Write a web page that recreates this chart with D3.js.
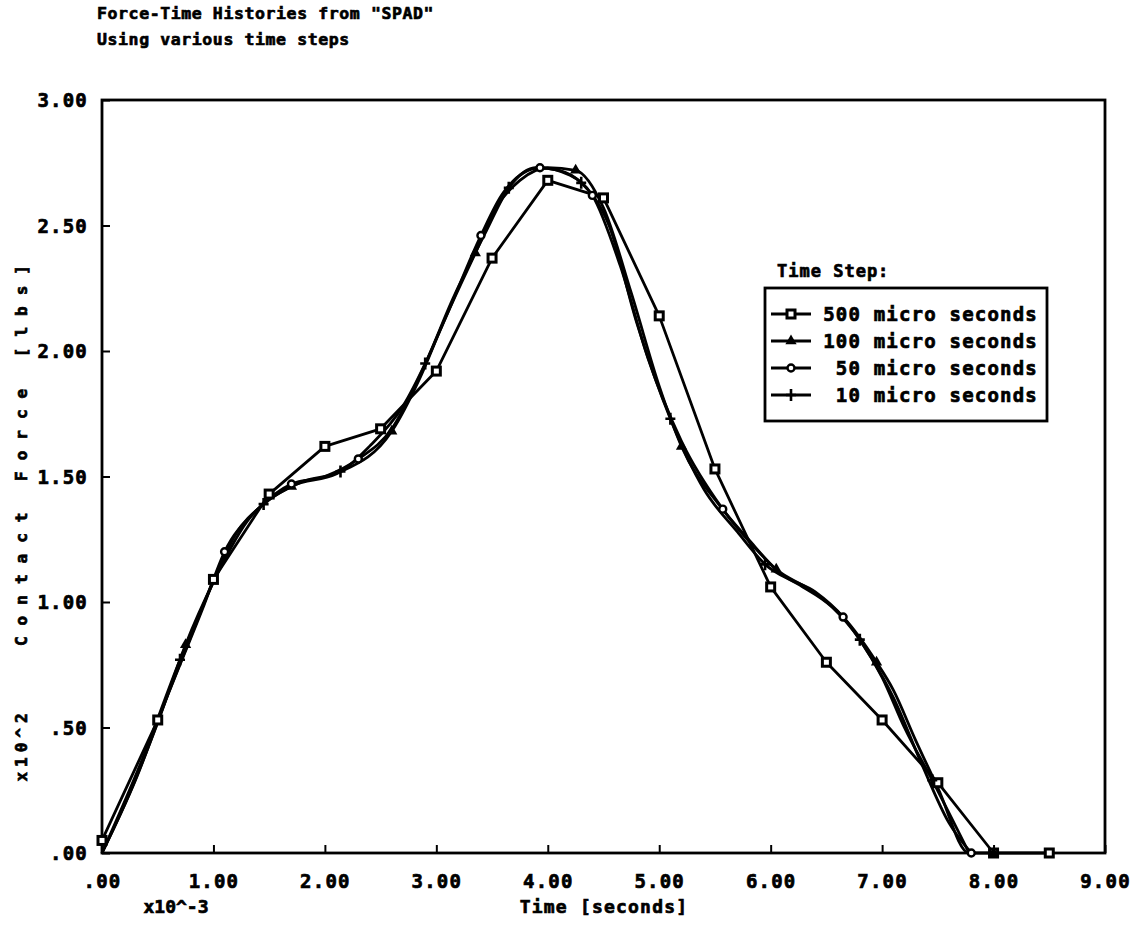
<!DOCTYPE html>
<html>
<head>
<meta charset="utf-8">
<script src="https://cdn.jsdelivr.net/npm/d3@7"></script>
<style>
  body { margin: 0; background: #fff; }
  text { font-family: "DejaVu Sans Mono", monospace; font-weight: bold; fill: #000; stroke: #000; stroke-width: 0.7px; white-space: pre; }
</style>
</head>
<body>
<svg id="chart" width="1147" height="926"></svg>
<script>
// 500 micro seconds (square markers at every point, straight segments)
const t500 = [0, 0.5, 1.0, 1.5, 2.0, 2.5, 3.0, 3.5, 4.0, 4.5, 5.0, 5.5, 6.0, 6.5, 7.0, 7.5, 8.0, 8.5];
const f500 = [0.05, 0.53, 1.09, 1.43, 1.62, 1.69, 1.92, 2.37, 2.68, 2.61, 2.14, 1.53, 1.06, 0.76, 0.53, 0.28, 0.0, 0.0];

// 100 micro seconds (triangles)
const t100 = [0, 0.25, 0.5, 0.75, 1.0, 1.3, 1.7, 2.1, 2.6, 2.85, 3.05, 3.35, 3.55, 3.75, 4.0, 4.25, 4.5, 4.75, 5.0, 5.2, 5.55, 5.8, 6.05, 6.35, 6.65, 6.95, 7.1, 7.3, 7.5, 7.78, 8.0];
const f100 = [0, 0.24, 0.52, 0.83, 1.08, 1.32, 1.46, 1.51, 1.68, 1.89, 2.10, 2.39, 2.58, 2.68, 2.73, 2.72, 2.57, 2.23, 1.86, 1.62, 1.38, 1.25, 1.13, 1.05, 0.94, 0.76, 0.65, 0.45, 0.26, 0, 0];
const m100 = [3, 6, 8, 11, 15, 19, 22, 25, 30];

// 50 micro seconds (circles)
const t50 = [0, 0.3, 0.6, 0.9, 1.1, 1.4, 1.7, 2.0, 2.3, 2.6, 2.85, 3.1, 3.4, 3.6, 3.93, 4.2, 4.4, 4.65, 4.9, 5.2, 5.57, 5.85, 6.1, 6.4, 6.65, 6.9, 7.1, 7.35, 7.6, 7.8];
const f50 = [0, 0.29, 0.64, 0.97, 1.20, 1.37, 1.47, 1.50, 1.57, 1.69, 1.90, 2.15, 2.46, 2.63, 2.73, 2.70, 2.62, 2.34, 1.97, 1.64, 1.37, 1.22, 1.11, 1.04, 0.94, 0.78, 0.62, 0.36, 0.12, 0];
const m50 = [4, 6, 8, 12, 14, 16, 20, 24, 29];

// 10 micro seconds (plus signs)
const t10 = [0, 0.35, 0.7, 0.95, 1.2, 1.45, 1.8, 2.14, 2.4, 2.7, 2.9, 3.15, 3.45, 3.65, 3.9, 4.1, 4.3, 4.55, 4.8, 5.1, 5.4, 5.7, 5.95, 6.25, 6.55, 6.8, 7.0, 7.2, 7.45, 7.78];
const f10 = [0, 0.36, 0.77, 1.03, 1.27, 1.39, 1.48, 1.52, 1.62, 1.78, 1.95, 2.21, 2.48, 2.65, 2.73, 2.72, 2.67, 2.50, 2.11, 1.73, 1.45, 1.28, 1.15, 1.07, 0.98, 0.85, 0.70, 0.50, 0.29, 0];
const m10 = [2, 5, 7, 10, 13, 16, 19, 22, 25, 28];

const xTicks = [0, 1, 2, 3, 4, 5, 6, 7, 8, 9];
const yTicks = [0, 0.5, 1.0, 1.5, 2.0, 2.5, 3.0];
const legendLabels = ["500 micro seconds", "100 micro seconds", " 50 micro seconds", " 10 micro seconds"];

const svg = d3.select('#chart');
const x = d3.scaleLinear().domain([0, 9]).range([102, 1105]);
const y = d3.scaleLinear().domain([0, 3]).range([853, 100]);
const fmt = v => d3.format('.2f')(v).replace(/^0/, '');

// titles
svg.append('text').attr('x', 97).attr('y', 19).attr('font-size', 16.5).attr('letter-spacing', 0.6)
    .text('Force-Time Histories from "SPAD"');
svg.append('text').attr('x', 97).attr('y', 45).attr('font-size', 16.5).attr('letter-spacing', 0.6)
    .text('Using various time steps');

// axes with inward ticks
const xAxis = svg.append('g').attr('transform', `translate(0,${y(0)})`)
    .call(d3.axisBottom(x).tickValues(xTicks).tickSizeInner(-8).tickSizeOuter(0).tickPadding(22).tickFormat(fmt));
const yAxis = svg.append('g').attr('transform', `translate(${x(0)},0)`)
    .call(d3.axisLeft(y).tickValues(yTicks).tickSizeInner(-8).tickSizeOuter(0).tickPadding(14).tickFormat(fmt));
[xAxis, yAxis].forEach(a => {
    a.select('.domain').remove();
    a.selectAll('line').attr('stroke', '#000').attr('stroke-width', 2);
    a.selectAll('text').attr('font-size', 19).attr('letter-spacing', 1.2)
        .style('font-family', '"DejaVu Sans Mono", monospace').style('font-weight', 'bold');
});
yAxis.selectAll('text').attr('dy', '0.35em');

// frame
svg.append('rect').attr('x', x(0)).attr('y', y(3)).attr('width', x(9) - x(0)).attr('height', y(0) - y(3))
    .attr('fill', 'none').attr('stroke', '#000').attr('stroke-width', 2.8);

// axis titles
svg.append('text').attr('x', 176).attr('y', 913).attr('text-anchor', 'middle').attr('font-size', 18).text('x10^-3');
svg.append('text').attr('x', 604).attr('y', 913).attr('text-anchor', 'middle').attr('font-size', 18).attr('letter-spacing', 1.2)
    .text('Time [seconds]');
svg.append('text').attr('transform', 'translate(27,745) rotate(-90)').attr('text-anchor', 'middle')
    .attr('font-size', 16).attr('letter-spacing', 5).text('x10^2');
svg.append('text').attr('transform', 'translate(27,450) rotate(-90)').attr('text-anchor', 'middle')
    .attr('font-size', 16).attr('letter-spacing', 11).text('Contact Force [lbs]');

// marker shapes
function marker(g, kind, cx, cy) {
    if (kind === 'square') {
        g.append('rect').attr('x', cx - 4).attr('y', cy - 4).attr('width', 8).attr('height', 8)
            .attr('fill', '#fff').attr('stroke', '#000').attr('stroke-width', 3);
    } else if (kind === 'triangle') {
        g.append('path').attr('d', d3.symbol(d3.symbolTriangle, 55)()).attr('transform', `translate(${cx},${cy})`)
            .attr('fill', '#000');
    } else if (kind === 'circle') {
        g.append('circle').attr('cx', cx).attr('cy', cy).attr('r', 3.5)
            .attr('fill', '#fff').attr('stroke', '#000').attr('stroke-width', 2.4);
    } else {
        g.append('path').attr('d', `M${cx - 5},${cy}H${cx + 5}M${cx},${cy - 6}V${cy + 6}`)
            .attr('stroke', '#000').attr('stroke-width', 2.6);
    }
}

const series = [
    { t: t500, f: f500, marks: t500.map((d, i) => i), kind: 'square', curve: d3.curveLinear },
    { t: t100, f: f100, marks: m100, kind: 'triangle', curve: d3.curveMonotoneX },
    { t: t50, f: f50, marks: m50, kind: 'circle', curve: d3.curveMonotoneX },
    { t: t10, f: f10, marks: m10, kind: 'plus', curve: d3.curveMonotoneX }
];

const plot = svg.append('g');
series.forEach(s => {
    const pts = s.t.map((t, i) => [t, s.f[i]]);
    plot.append('path').datum(pts)
        .attr('d', d3.line().x(d => x(d[0])).y(d => y(d[1])).curve(s.curve))
        .attr('fill', 'none').attr('stroke', '#000').attr('stroke-width', 2.8).attr('stroke-linejoin', 'round');
});
series.forEach(s => {
    const g = plot.append('g');
    s.marks.forEach(i => marker(g, s.kind, x(s.t[i]), y(s.f[i])));
});

// legend
const lg = svg.append('g');
lg.append('text').attr('x', 777).attr('y', 277).attr('font-size', 17).attr('letter-spacing', 1).text('Time Step:');
lg.append('rect').attr('x', 765).attr('y', 288).attr('width', 282).attr('height', 133)
    .attr('fill', '#fff').attr('stroke', '#000').attr('stroke-width', 2.8);
series.forEach((s, i) => {
    const cy = 314 + i * 27;
    lg.append('line').attr('x1', 771).attr('x2', 811).attr('y1', cy).attr('y2', cy)
        .attr('stroke', '#000').attr('stroke-width', 2.8);
    marker(lg, s.kind, 791, cy);
    lg.append('text').attr('x', 1038).attr('y', cy).attr('dy', '0.35em').attr('text-anchor', 'end')
        .attr('font-size', 19).attr('letter-spacing', 1.2).text(legendLabels[i]);
});
</script>
</body>
</html>
